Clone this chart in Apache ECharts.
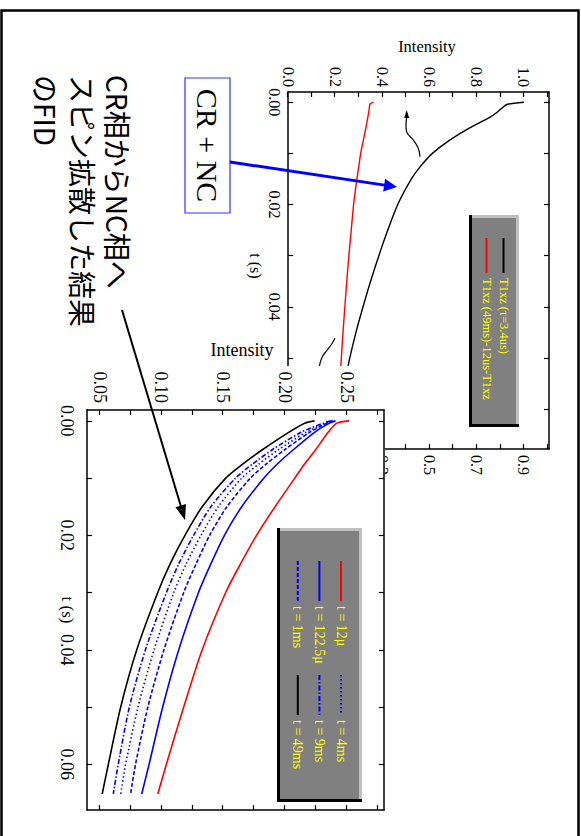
<!DOCTYPE html>
<html><head><meta charset="utf-8">
<script src="https://cdn.jsdelivr.net/npm/echarts@6/dist/echarts.min.js"></script>
<style>
html,body{margin:0;padding:0;background:#fff;overflow:hidden;width:581px;height:836px}
#rot{position:absolute;left:0;top:0;width:836px;height:581px;transform-origin:0 0;transform:translate(581px,0) rotate(90deg);}
#c{width:836px;height:581px}
</style></head>
<body><div id="rot"><div id="c"></div></div>
<script>
// ---------- data ----------
const tUpper = [0, 0.0004, 0.001, 0.002, 0.003, 0.005, 0.0075, 0.01, 0.0125, 0.015, 0.02, 0.025, 0.03, 0.035, 0.04, 0.045, 0.05, 0.056];
const upperBlack = [1.0, 0.93, 0.91, 0.885, 0.853, 0.77, 0.682, 0.612, 0.562, 0.523, 0.465, 0.423, 0.385, 0.350, 0.318, 0.288, 0.262, 0.236];
const upperRed = [0.362, 0.347, 0.345, 0.342, 0.338, 0.330, 0.319, 0.308, 0.300, 0.292, 0.278, 0.268, 0.258, 0.249, 0.241, 0.233, 0.226, 0.218];
const upperNames = ['T1xz (\u03c4=3.4us)', 'T1xz (49ms)-12us-T1xz'];

const tLower = [0, 0.0004, 0.002, 0.005, 0.0075, 0.01, 0.015, 0.02, 0.025, 0.03, 0.04, 0.05, 0.06, 0.0652];
const red12u = [0.252, 0.242, 0.235, 0.225, 0.216, 0.208, 0.192, 0.177, 0.164, 0.152, 0.133, 0.118, 0.104, 0.097];
const blue122u = [0.241, 0.236, 0.224, 0.207, 0.194, 0.183, 0.165, 0.151, 0.140, 0.130, 0.114, 0.101, 0.090, 0.084];
const blue1ms = [0.239, 0.234, 0.220, 0.200, 0.185, 0.172, 0.153, 0.139, 0.128, 0.118, 0.102, 0.089, 0.079, 0.075];
const blue4ms = [0.238, 0.233, 0.217, 0.195, 0.179, 0.165, 0.146, 0.132, 0.120, 0.110, 0.094, 0.081, 0.071, 0.067];
const blue9ms = [0.237, 0.231, 0.213, 0.190, 0.174, 0.160, 0.140, 0.126, 0.114, 0.104, 0.087, 0.074, 0.065, 0.061];
const black49ms = [0.224, 0.216, 0.203, 0.182, 0.166, 0.152, 0.133, 0.119, 0.107, 0.097, 0.080, 0.067, 0.057, 0.052];
const lowerNames = ['t = 12\u03bc', 't = 122.5\u03bc', 't = 1ms', 't = 4ms', 't = 9ms', 't = 49ms'];

const upperTLabels = [0, 0.02, 0.04, 0.06];
const upperTTicks = [0, 0.01, 0.02, 0.03, 0.04, 0.05, 0.06];
const upperILabels = [0, 0.2, 0.4, 0.6, 0.8, 1.0];
const upperITicks = [0, 0.1, 0.2, 0.3, 0.4, 0.5, 0.6, 0.7, 0.8, 0.9, 1.0, 1.1];
const upperRLabels = [0.1, 0.3, 0.5, 0.7, 0.9];
const upperRTicks = [0, 0.1, 0.2, 0.3, 0.4, 0.5, 0.6, 0.7, 0.8, 0.9, 1.0];
const lowerTLabels = [0, 0.02, 0.04, 0.06];
const lowerTTicks = [0, 0.01, 0.02, 0.03, 0.04, 0.05, 0.06];
const lowerILabels = [0.05, 0.10, 0.15, 0.20, 0.25];
const lowerITicks = [0.05, 0.075, 0.10, 0.125, 0.15, 0.175, 0.20, 0.225, 0.25, 0.275];

const jpLines = ['CR\u76f8\u304b\u3089NC\u76f8\u3078', '\u30b9\u30d4\u30f3\u62e1\u6563\u3057\u305f\u7d50\u679c', '\u306eFID'];

// ---------- helpers ----------
const SERIF = '"Liberation Serif","Times New Roman",serif';
const pairs = (ts, vs) => ts.map((t, i) => [t, vs[i]]);

function valAxis(o) {
  return Object.assign({
    type: 'value', nameMoveOverlap: false,
    axisLine: { show: true, onZero: false, lineStyle: { color: '#000', width: 1.5 } },
    axisTick: { show: true, inside: true, length: 5, lineStyle: { color: '#000', width: 1.2 } },
    axisLabel: { show: true, color: '#000', fontFamily: SERIF },
    splitLine: { show: false }
  }, o);
}
function arrow(x1, y1, x2, y2, color, w, hl, hw, z) {
  const dx = x2 - x1, dy = y2 - y1, L = Math.hypot(dx, dy), ux = dx / L, uy = dy / L;
  const bx = x2 - ux * hl, by = y2 - uy * hl;
  return [
    { type: 'polyline', z: z, shape: { points: [[x1, y1], [bx + ux * 2, by + uy * 2]] }, style: { stroke: color, lineWidth: w, fill: null } },
    { type: 'polygon', z: z, shape: { points: [[x2, y2], [bx - uy * hw, by + ux * hw], [bx + uy * hw, by - ux * hw]] }, style: { fill: color } }
  ];
}
function legendBox(x, y, w, h, z) {
  return [
    { type: 'rect', z: z, shape: { x: x, y: y, width: w, height: h }, style: { fill: '#000' } },
    { type: 'rect', z: z, shape: { x: x, y: y, width: w - 3, height: h - 3 }, style: { fill: '#c0c0c0' } },
    { type: 'rect', z: z, shape: { x: x + 3, y: y + 3, width: w - 6, height: h - 6 }, style: { fill: '#808080' } }
  ];
}

const chart = echarts.init(document.getElementById('c'), null, { renderer: 'svg' });

const graphic = [].concat(
  // lower chart's white background covering the upper chart
  [{ type: 'rect', z: 10, shape: { x: 366, y: 196, width: 480, height: 390 }, style: { fill: '#fff' } }],
  // curvy annotation arrows in upper chart
  [{ type: 'polyline', z: 5, shape: { points: [[156.7, 161], [148.3, 162.7], [140, 167.7], [133.3, 173.7], [126.7, 175], [116.7, 174.3]], smooth: 0.4 }, style: { stroke: '#000', lineWidth: 1.2, fill: null } },
   { type: 'polygon', z: 5, shape: { points: [[110, 174.3], [118, 171.8], [118, 176.8]] }, style: { fill: '#000' } },
   { type: 'polyline', z: 5, shape: { points: [[338.3, 246], [344, 249.3], [350, 253.7], [356, 258.3], [363.3, 261], [368, 261.7]], smooth: 0.4 }, style: { stroke: '#000', lineWidth: 1.2, fill: null } }],
  legendBox(215, 62, 212, 50, 30),
  legendBox(528, 219, 274, 85, 30),
  // CR + NC box
  [{ type: 'rect', z: 50, shape: { x: 78, y: 351, width: 135, height: 45 }, style: { fill: '#fff', stroke: '#3333ff', lineWidth: 1.2 } },
   { type: 'text', z: 51, x: 145.5, y: 374, style: { text: 'CR + NC', fontSize: 30, fontFamily: SERIF, fill: '#000', align: 'center', verticalAlign: 'middle' } }],
  arrow(162, 351, 187, 184, '#0000ff', 3, 13, 6.5, 50),
  jpLines.map((s, i) => ({ type: 'text', z: 50, x: 75, y: [463, 498, 535][i], style: { text: s, fontSize: 28, fontFamily: '"Noto Sans CJK JP",sans-serif', fill: '#000', align: 'left', verticalAlign: 'middle' } })),
  arrow(310, 459, 520, 396, '#000', 2, 15, 5.5, 50),
  // outer frame
  [{ type: 'rect', z: 100, shape: { x: 10.5, y: 2.5, width: 900, height: 577 }, style: { fill: null, stroke: '#000', lineWidth: 2.5 } }]
);

const lowerStyles = [
  { color: '#ff0000', type: 'solid' },
  { color: '#0000ff', type: 'solid' },
  { color: '#0000ff', type: [4, 2] },
  { color: '#0000ff', type: [1.5, 2.5] },
  { color: '#0000ff', type: [5, 2, 1.5, 2] },
  { color: '#000000', type: 'solid' }
];
const lowerData = [red12u, blue122u, blue1ms, blue4ms, blue9ms, black49ms];

const series = [
  { name: upperNames[0], type: 'line', xAxisIndex: 0, yAxisIndex: 0, data: pairs(tUpper, upperBlack), symbol: 'none', z: 2, silent: true,
    smooth: 0.25, lineStyle: { color: '#000', width: 1.4 }, itemStyle: { color: '#000' } },
  { name: upperNames[1], type: 'line', xAxisIndex: 0, yAxisIndex: 0, data: pairs(tUpper, upperRed), symbol: 'none', z: 2, silent: true,
    smooth: 0.25, lineStyle: { color: '#ff0000', width: 1.4 }, itemStyle: { color: '#ff0000' } }
].concat(lowerNames.map((n, i) => ({
  name: n, type: 'line', xAxisIndex: 2, yAxisIndex: 2, data: pairs(tLower, lowerData[i]), symbol: 'none', z: 21, silent: true,
  smooth: 0.25,
  lineStyle: { color: lowerStyles[i].color, width: 1.6, type: lowerStyles[i].type }, itemStyle: { color: lowerStyles[i].color }
})));

const legTxt = (fs) => ({ color: '#ffff00', fontSize: fs, fontFamily: SERIF });
const legCommon = { orient: 'vertical', itemHeight: 14, padding: 0, z: 40, selectedMode: false, itemStyle: { opacity: 0 } };

chart.setOption({
  animation: false,
  backgroundColor: '#fff',
  grid: [
    { left: 92, top: 32, width: 357, height: 261, containLabel: false, outerBoundsMode: 'none', show: false },
    { left: 410, top: 197, width: 400, height: 297, containLabel: false, outerBoundsMode: 'none', show: false }
  ],
  xAxis: [
    valAxis({ gridIndex: 0, position: 'bottom', min: -0.002, max: 0.0678,
      axisTick: { show: true, inside: true, length: 5, customValues: upperTTicks, lineStyle: { color: '#000', width: 1.2 } },
      axisLabel: { customValues: upperTLabels, formatter: v => v.toFixed(2), fontSize: 16, margin: 6, color: '#000', fontFamily: SERIF },
      name: 't (s)', nameLocation: 'middle', nameGap: 25, nameTextStyle: { fontSize: 16, fontFamily: SERIF, color: '#000', padding: [0, 9, 0, 0] } }),
    valAxis({ gridIndex: 0, position: 'top', min: -0.002, max: 0.0678,
      axisTick: { show: true, inside: true, length: 5, customValues: upperTTicks, lineStyle: { color: '#000', width: 1.2 } },
      axisLabel: { show: false } }),
    valAxis({ gridIndex: 1, position: 'bottom', min: -0.0019, max: 0.068, z: 20,
      axisTick: { show: true, inside: true, length: 5, customValues: lowerTTicks, lineStyle: { color: '#000', width: 1.2 } },
      axisLabel: { customValues: lowerTLabels, formatter: v => v.toFixed(2), fontSize: 18, margin: 11, color: '#000', fontFamily: SERIF },
      name: 't (s)', nameLocation: 'middle', nameGap: 11, nameTextStyle: { fontSize: 17, fontFamily: SERIF, color: '#000' } }),
    valAxis({ gridIndex: 1, position: 'top', min: -0.0019, max: 0.068, z: 20,
      axisTick: { show: true, inside: true, length: 5, customValues: lowerTTicks, lineStyle: { color: '#000', width: 1.2 } },
      axisLabel: { show: false } })
  ],
  yAxis: [
    valAxis({ gridIndex: 0, position: 'left', min: 0, max: 1.106,
      axisTick: { show: true, inside: true, length: 5, customValues: upperITicks, lineStyle: { color: '#000', width: 1.2 } },
      axisLabel: { customValues: upperILabels, formatter: v => v.toFixed(1), fontSize: 16, margin: 5, color: '#000', fontFamily: SERIF },
      name: 'Intensity', nameLocation: 'middle', nameGap: 37, nameTextStyle: { fontSize: 16.5, fontFamily: SERIF, color: '#000', padding: [0, 0, 0, 17] } }),
    valAxis({ gridIndex: 0, position: 'right', min: -0.1, max: 1.006,
      axisTick: { show: true, inside: true, length: 5, customValues: upperRTicks, lineStyle: { color: '#000', width: 1.2 } },
      axisLabel: { customValues: upperRLabels, formatter: v => v.toFixed(1), fontSize: 16, margin: 6, color: '#000', fontFamily: SERIF } }),
    valAxis({ gridIndex: 1, position: 'left', min: 0.0397, max: 0.2802, z: 20,
      axisTick: { show: true, inside: true, length: 5, customValues: lowerITicks, lineStyle: { color: '#000', width: 1.2 } },
      axisLabel: { customValues: lowerILabels, formatter: v => v.toFixed(2), fontSize: 18, margin: 7, color: '#000', fontFamily: SERIF },
      name: 'Intensity', nameLocation: 'middle', nameGap: 51, nameTextStyle: { fontSize: 18, fontFamily: SERIF, color: '#000', padding: [0, 0, 0, 13] } }),
    valAxis({ gridIndex: 1, position: 'right', min: 0.0397, max: 0.2802, z: 20,
      axisTick: { show: true, inside: true, length: 5, customValues: lowerITicks, lineStyle: { color: '#000', width: 1.2 } },
      axisLabel: { show: false } })
  ],
  legend: [
    Object.assign({ data: upperNames, left: 237, top: 71, itemWidth: 35, itemGap: 4, textStyle: legTxt(12.5) }, legCommon),
    Object.assign({ data: lowerNames.slice(0, 3), left: 560, top: 233, itemWidth: 40, itemGap: 7.6, textStyle: legTxt(14) }, legCommon),
    Object.assign({ data: lowerNames.slice(3), left: 674, top: 233, itemWidth: 40, itemGap: 7.6, textStyle: legTxt(14) }, legCommon)
  ],
  graphic: { elements: graphic },
  series: series
});
</script>
</body></html>
